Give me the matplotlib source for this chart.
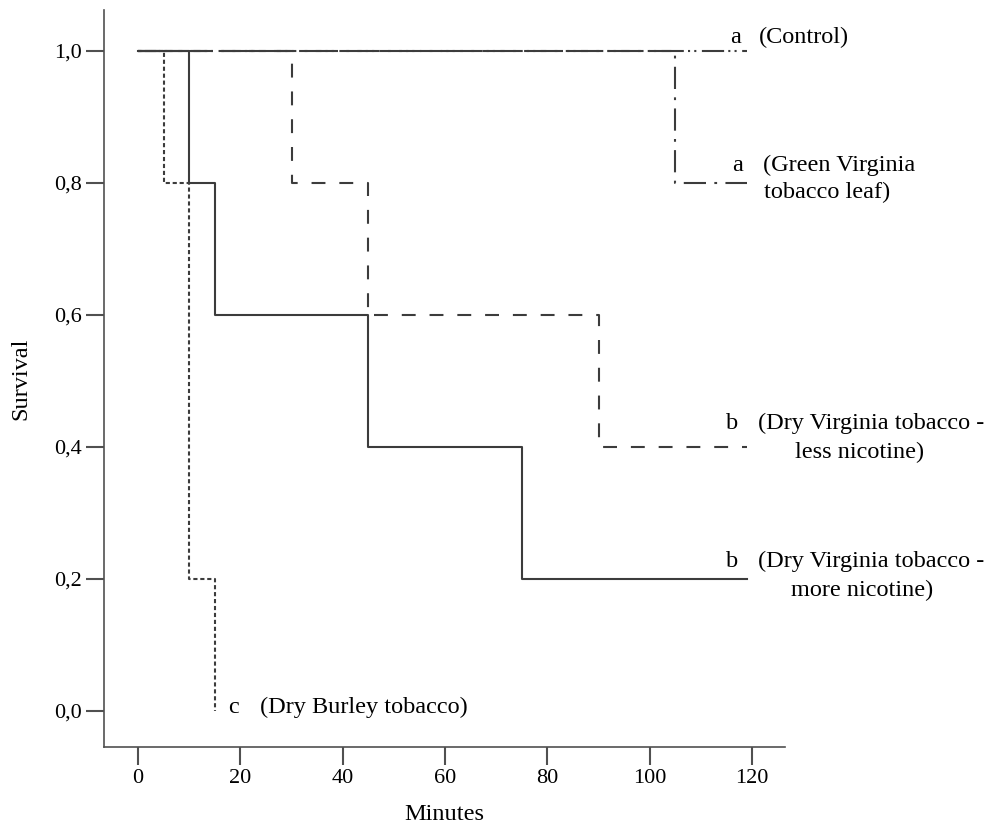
import matplotlib
matplotlib.use("Agg")
import matplotlib.pyplot as plt

plt.rcParams['font.family'] = ['Liberation Serif', 'DejaVu Serif']
plt.rcParams['lines.scale_dashes'] = False

# ---- data ----
control_t = [0, 119]
control_s = [1.0, 1.0]
green_t = [0, 105, 119]
green_s = [1.0, 0.8, 0.8]
less_t = [0, 30, 45, 90, 119]
less_s = [1.0, 0.8, 0.6, 0.4, 0.4]
more_t = [0, 10, 15, 45, 75, 119]
more_s = [1.0, 0.8, 0.6, 0.4, 0.2, 0.2]
burley_t = [0, 5, 10, 15]
burley_s = [1.0, 0.8, 0.2, 0.0]

x_ticks = [0, 20, 40, 60, 80, 100, 120]
y_ticks = [0.0, 0.2, 0.4, 0.6, 0.8, 1.0]
y_tick_labels = ["0,0", "0,2", "0,4", "0,6", "0,8", "1,0"]

fig = plt.figure(figsize=(10, 8.34), dpi=100)
ax = fig.add_axes([0.104, 1 - 747 / 834, (785 - 104) / 1000, (747 - 10) / 834])

lc = '#3c3c3c'
lw = 1.5
ax.step(control_t, control_s, where='post', color=lc, lw=lw,
        linestyle=(0, (16, 3, 1.5, 3, 1.5, 4)))
ax.step(green_t, green_s, where='post', color=lc, lw=lw,
        linestyle=(0, (2, 6, 16, 6)))
ax.step(less_t, less_s, where='post', color=lc, lw=lw,
        linestyle=(0, (10, 10)))
ax.step(more_t, more_s, where='post', color=lc, lw=lw, linestyle='-')
ax.step(burley_t, burley_s, where='post', color=lc, lw=lw,
        linestyle=(0, (3, 2)))

ax.set_xlim(-6.64, 126.4)
ax.set_ylim(-0.0545, 1.062)
ax.set_xticks(x_ticks)
ax.set_yticks(y_ticks)
ax.set_yticklabels(y_tick_labels)

for s in ['top', 'right']:
    ax.spines[s].set_visible(False)
for s in ['left', 'bottom']:
    ax.spines[s].set_color('#505050')
    ax.spines[s].set_linewidth(1.2)
ax.tick_params(axis='both', length=13, width=1.5, color='#505050',
               labelsize=16, pad=3)

ax.set_xlabel('Minutes', fontsize=17.5, labelpad=11)
ax.set_ylabel('Survival', fontsize=17.5, labelpad=16)

fs = 17.5
tk = dict(fontsize=fs, va='center', clip_on=False)
# Control
ax.text(116.7, 1.021, 'a', ha='center', **tk)
ax.text(121.2, 1.021, '(Control)', ha='left', **tk)
# Green Virginia
ax.text(117.1, 0.827, 'a', ha='center', **tk)
ax.text(122.1, 0.827, '(Green Virginia', ha='left', **tk)
ax.text(134.7, 0.786, 'tobacco leaf)', ha='center', **tk)
# Dry Virginia less nicotine
ax.text(116.1, 0.436, 'b', ha='center', **tk)
ax.text(121.2, 0.436, '(Dry Virginia tobacco -', ha='left', **tk)
ax.text(140.9, 0.392, 'less nicotine)', ha='center', **tk)
# Dry Virginia more nicotine
ax.text(116.1, 0.226, 'b', ha='center', **tk)
ax.text(121.2, 0.226, '(Dry Virginia tobacco -', ha='left', **tk)
ax.text(141.5, 0.182, 'more nicotine)', ha='center', **tk)
# Dry Burley
ax.text(18.6, 0.006, 'c', ha='center', **tk)
ax.text(23.9, 0.006, '(Dry Burley tobacco)', ha='left', **tk)

fig.savefig('out.png', dpi=100)
